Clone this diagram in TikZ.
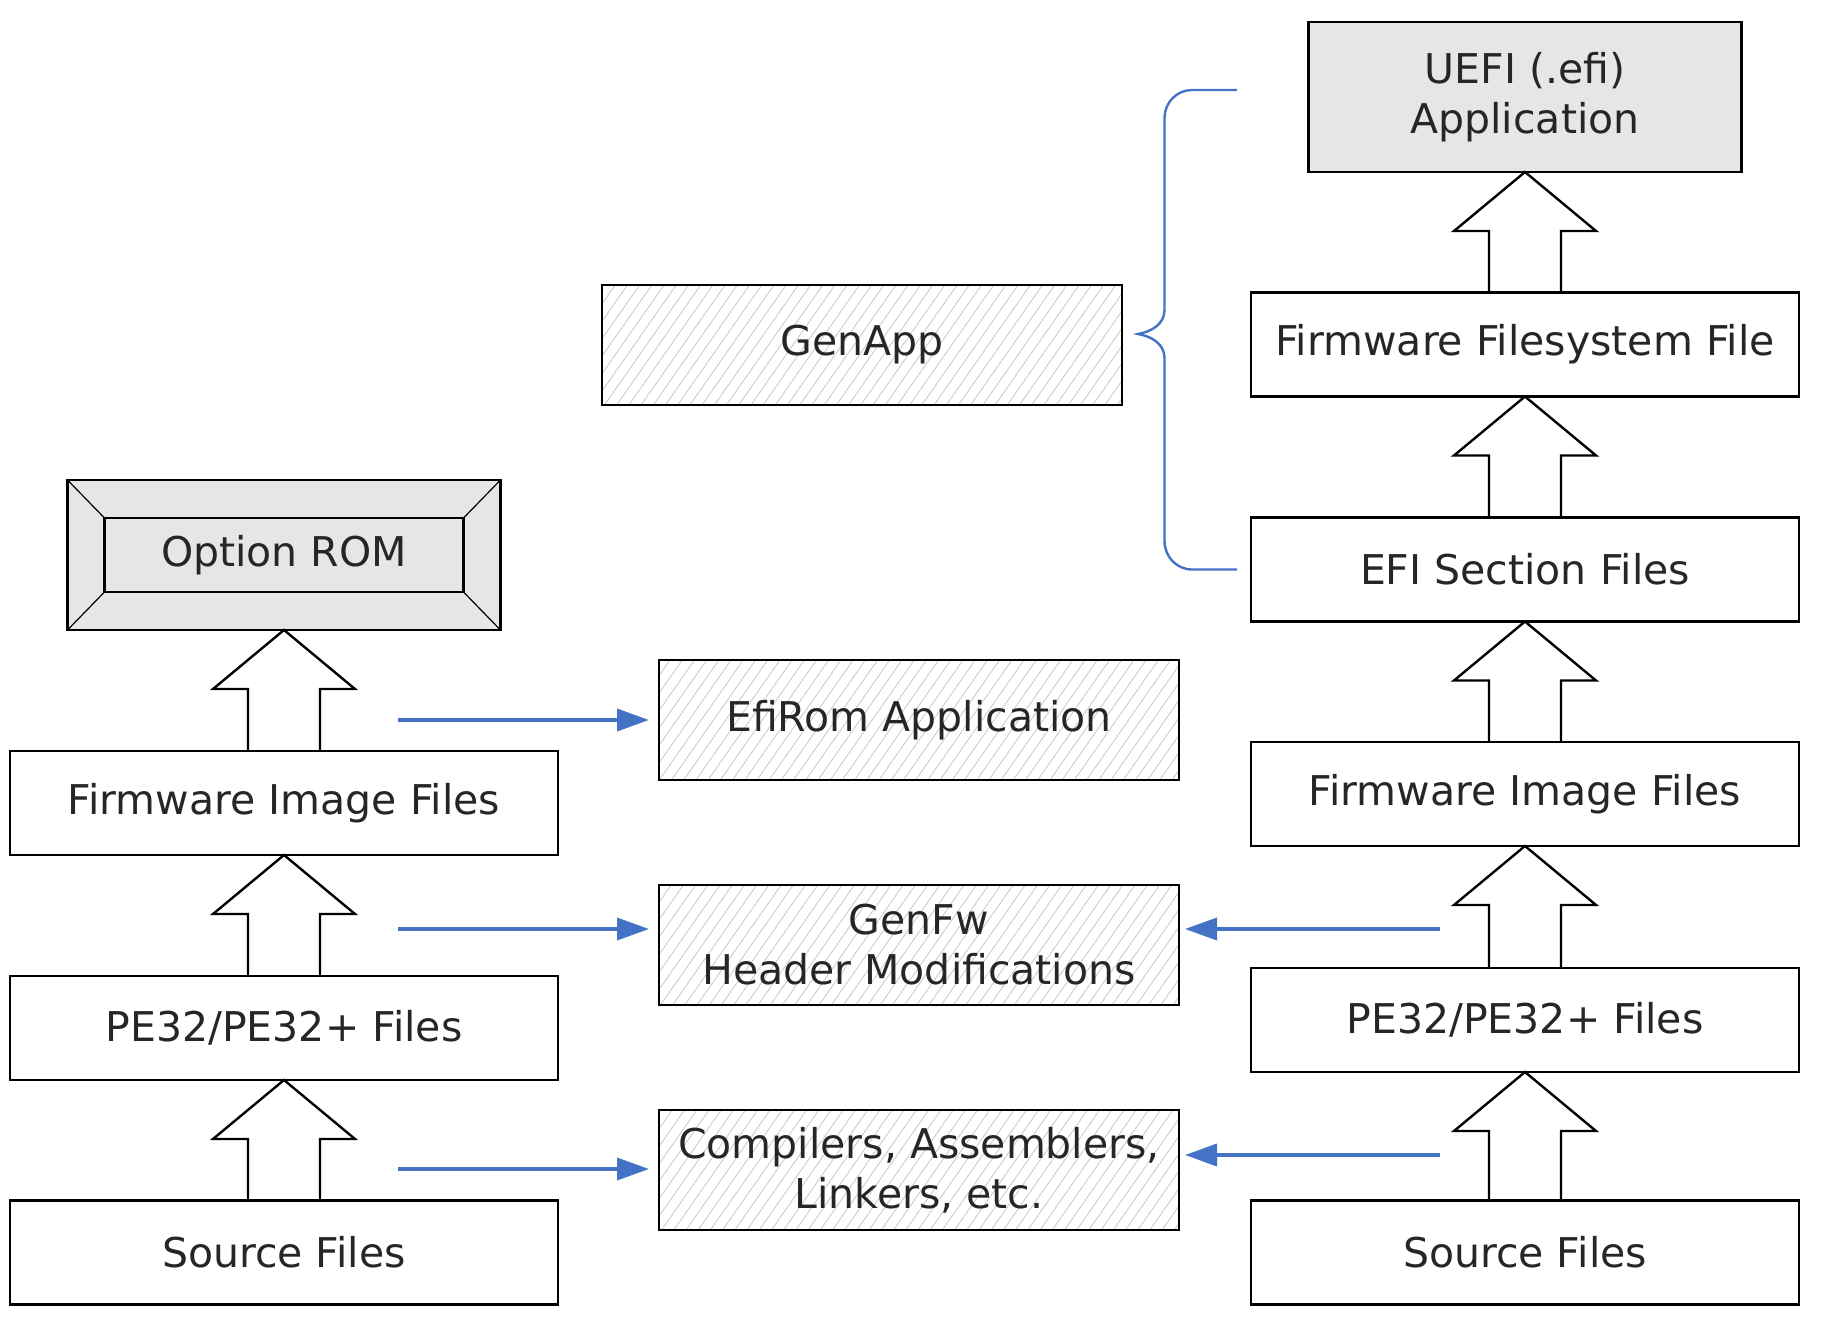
\documentclass[tikz,border=0pt]{standalone}
\usepackage{fontspec}
\setmainfont{DejaVu Sans}
\usetikzlibrary{arrows.meta,calc,patterns.meta}
\definecolor{flowblue}{RGB}{68,114,196}
\definecolor{boxgray}{RGB}{230,230,230}
\tikzset{
  file/.style={rectangle, draw=black, line width=1.3pt, fill=white, outer sep=0pt,
               minimum width=274pt, minimum height=52pt, align=center,
               font=\fontsize{20.5}{25}\selectfont, text=black!85},
  tool/.style={file, minimum width=260pt, minimum height=60pt,
               pattern={Lines[angle=55,distance=5pt,line width=0.4pt]}, pattern color=black!22},
  target/.style={file, fill=boxgray, minimum width=216.5pt, minimum height=75pt},
  hollow/.style={draw=black, line width=1.2pt, line join=miter},
  flow/.style={-{Triangle[length=16pt,width=11pt]}, draw=flowblue, line width=1.8pt, shorten >=5pt},
  brc/.style={draw=flowblue, line width=1.2pt},
}

\begin{document}
\begin{tikzpicture}[x=0.5pt, y=-0.5pt]
\useasboundingbox (0,0) rectangle (1826,1338);

% ============================ left column (Option ROM) ============================
\node[target] (rom)  at (284,555)    {Option ROM};
\node[file]   (lfif) at (284,803)    {Firmware Image Files};
\node[file]   (lpe)  at (284,1028)   {PE32/PE32+ Files};
\node[file]   (lsrc) at (284,1252.5) {Source Files};

% bevel of the Option ROM box
\draw[line width=1.2pt] ($(rom.north west)+(37,38)$) rectangle ($(rom.south east)+(-37,-38)$);
\draw[line width=0.6pt] (rom.north west) -- ++(37,38)  (rom.north east) -- ++(-37,38)
                        (rom.south west) -- ++(37,-38) (rom.south east) -- ++(-37,-38);

% ============================ tools =============================================
\node[tool] (genapp) at (862,345)  {GenApp};
\node[tool] (efirom) at (919,720)  {EfiRom Application};
\node[tool] (genfw)  at (919,945)  {GenFw\\Header Modifications};
\node[tool] (cc)     at (919,1170) {Compilers, Assemblers,\\Linkers, etc.};

% ============================ right column (UEFI application) =====================
\node[target] (uefi) at (1525,97)    {UEFI (.efi)\\Application};
\node[file]   (ffs)  at (1525,344.5) {Firmware Filesystem File};
\node[file]   (sec)  at (1525,569.5) {EFI Section Files};
\node[file]   (rfif) at (1525,794)   {Firmware Image Files};
\node[file]   (rpe)  at (1525,1020)  {PE32/PE32+ Files};
\node[file]   (rsrc) at (1525,1252.5) {Source Files};

% ============================ hollow block arrows =================================
\foreach \a/\b in {lsrc/lpe, lpe/lfif, lfif/rom, rsrc/rpe, rpe/rfif, rfif/sec, sec/ffs, ffs/uefi}
{
  \coordinate (s) at (\a.north);
  \coordinate (t) at (\b.south);
  \draw[hollow] ($(s)+(-36,0)$) -- ($(t)+(-36,59)$) -- ($(t)+(-71,59)$) -- (t)
                -- ($(t)+(71,59)$) -- ($(t)+(36,59)$) -- ($(s)+(36,0)$);
}

% ============================ tool arrows =========================================
\foreach \y/\t in {720/efirom, 929/genfw, 1169/cc}
  \draw[flow] (398,\y) coordinate (fl) -- (fl -| \t.west);
\foreach \y/\t in {929/genfw, 1155/cc}
  \draw[flow, shorten >=3pt] (1440,\y) coordinate (fr) -- (fr -| \t.east);

% ============================ GenApp brace =======================================
\coordinate (bt) at (1237,90);
\coordinate (bm) at (1138,334);
\coordinate (bb) at (1237,569.5);
\draw[brc] (bt) -- (1192,90) to[out=180,in=90] (1164.5,118) -- (1164.5,310)
  to[out=-90,in=10] (bm) to[out=-10,in=90] (1164.5,358) -- (1164.5,541)
  to[out=-90,in=180] (1192,569.5) -- (bb);

\end{tikzpicture}
\end{document}
